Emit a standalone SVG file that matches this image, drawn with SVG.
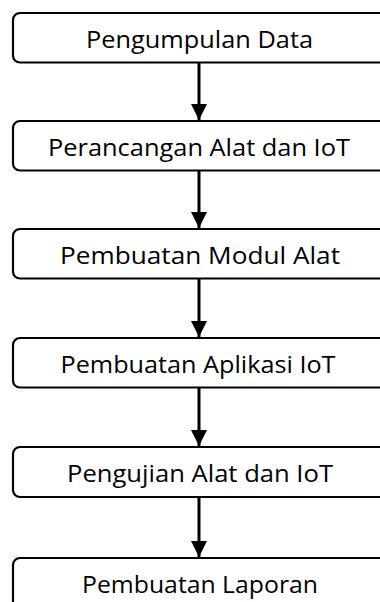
<svg xmlns="http://www.w3.org/2000/svg" width="380" height="602" viewBox="0 0 380 602">
<defs>
<style>
.box{fill:#fff;stroke:#000;stroke-width:2.2}
.lbl{font-family:"Open Sans","Noto Sans","Liberation Sans",sans-serif;font-size:23.5px;fill:#000;text-anchor:middle}
.conn{stroke:#000;stroke-width:3;fill:none}
</style>
<marker id="ah" markerWidth="16" markerHeight="16" refX="16" refY="8" orient="auto" markerUnits="userSpaceOnUse" viewBox="0 0 16 16">
<path d="M0,0 L16,8 L0,16 Z" fill="#000"/>
</marker>
</defs>
<rect width="380" height="602" fill="#fff"/>
<g id="connectors">
<line class="conn" x1="199" y1="63" x2="199" y2="120" marker-end="url(#ah)"/>
<line class="conn" x1="199" y1="171" x2="199" y2="228" marker-end="url(#ah)"/>
<line class="conn" x1="199" y1="279" x2="199" y2="337" marker-end="url(#ah)"/>
<line class="conn" x1="199" y1="388" x2="199" y2="446" marker-end="url(#ah)"/>
<line class="conn" x1="199" y1="498" x2="199" y2="557" marker-end="url(#ah)"/>
</g>
<g id="n1"><rect class="box" x="13" y="13" width="380" height="49.5" rx="7"/><text class="lbl" x="199.5" y="48" textLength="227" lengthAdjust="spacingAndGlyphs">Pengumpulan Data</text></g>
<g id="n2"><rect class="box" x="13" y="121" width="380" height="49.5" rx="7"/><text class="lbl" x="199" y="156" textLength="302" lengthAdjust="spacingAndGlyphs">Perancangan Alat dan IoT</text></g>
<g id="n3"><rect class="box" x="13" y="229" width="380" height="49.5" rx="7"/><text class="lbl" x="200" y="264" textLength="280" lengthAdjust="spacingAndGlyphs">Pembuatan Modul Alat</text></g>
<g id="n4"><rect class="box" x="13" y="338" width="380" height="49.5" rx="7"/><text class="lbl" x="198" y="373" textLength="275" lengthAdjust="spacingAndGlyphs">Pembuatan Aplikasi IoT</text></g>
<g id="n5"><rect class="box" x="13" y="447" width="380" height="50" rx="7"/><text class="lbl" x="200" y="482" textLength="266" lengthAdjust="spacingAndGlyphs">Pengujian Alat dan IoT</text></g>
<g id="n6"><rect class="box" x="13" y="558" width="380" height="60" rx="7"/><text class="lbl" x="200" y="593" textLength="236" lengthAdjust="spacingAndGlyphs">Pembuatan Laporan</text></g>
</svg>
